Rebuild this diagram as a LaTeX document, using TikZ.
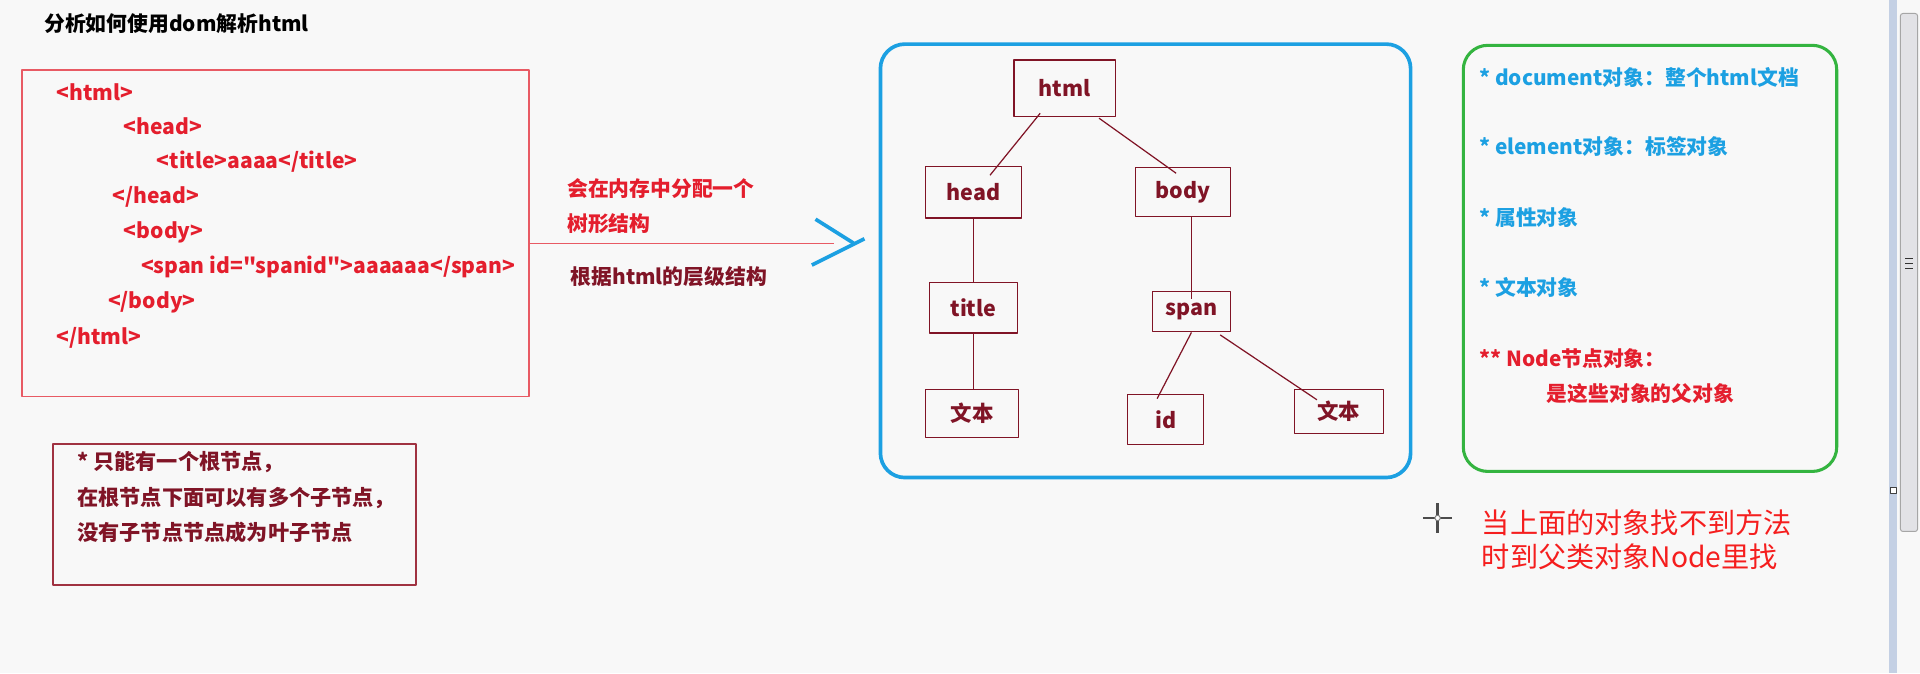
\documentclass[tikz,border=0pt]{standalone}
\usepackage{fontspec}
\setmainfont{Noto Sans CJK SC}
\newfontfamily\codefont{Noto Sans CJK SC} % 源码用，不做 TeX 引号替换
\usepackage{tikz}
\usetikzlibrary{
  calc,        % 坐标计算
  positioning  % 节点相对定位
}
\definecolor{codered}{RGB}{228,30,45}
\definecolor{boxred}{RGB}{232,90,100}
\definecolor{treered}{RGB}{128,20,38}
\definecolor{noteframe}{RGB}{160,50,65}
\definecolor{treeblue}{RGB}{28,160,226}
\definecolor{notegreen}{RGB}{52,180,64}
\definecolor{tipred}{RGB}{245,30,30}
\definecolor{bggray}{RGB}{248,248,248}
\definecolor{barblue}{RGB}{196,208,228}
\definecolor{bargray}{RGB}{226,226,230}

\tikzset{
  code/.style={anchor=west, inner sep=0pt, text=codered, font=\codefont\bfseries\fontsize{17.2}{17.2}\selectfont}, % 左侧 html 源码行
  treebox/.style={draw=treered, line width=1pt, text=treered, inner sep=0pt, font=\bfseries\fontsize{17.5}{17.5}\selectfont}, % 树形结构中的方框
  treeline/.style={draw=treered, line width=1pt}, % 树的连线
  note/.style={anchor=west, inner sep=0pt, font=\bfseries\fontsize{17}{17}\selectfont} % 说明文字
}

\begin{document}
\begin{tikzpicture}[x=1pt, y=-1pt, line join=round] % 以像素为单位，y 轴向下，方便按截图量坐标
  \useasboundingbox (0,0) rectangle (1568,550); % 固定画布大小
  \fill[bggray] (0,0) rectangle (1568,550); % 浅灰背景

  % 标题
  \node[anchor=west, inner sep=0pt, font=\bfseries\fontsize{17}{17}\selectfont] (heading) at (36,19) {分析如何使用dom解析html};

  % 左侧源码框
  \node[draw=boxred, line width=1.2pt, minimum width=414, minimum height=267, inner sep=0pt] (codebox) at (225,190.5) {};
  \node[code] (line1) at (46,75) {<html>};
  \node[code] (line2) at (101,103) {<head>};
  \node[code] (line3) at (128,132) {<title>aaaa</title>};
  \node[code] (line4) at (92,161) {</head>};
  \node[code] (line5) at (101,190) {<body>};
  \node[code] (line6) at (115,218) {<span id="spanid">aaaaaa</span>};
  \node[code] (line7) at (88,247) {</body>};
  \node[code] (line8) at (46,276) {</html>};

  % 中间的箭头与说明
  \coordinate (tip) at (681,199); % 红线的终点
  \draw[boxred, line width=1.2pt] (codebox.east |- tip) -- (tip); % 从源码框引出的横线
  \draw[treeblue, line width=3pt] (666,179) -- (697,198.5); % 蓝色箭头上半笔
  \draw[treeblue, line width=3pt] (706,195) -- (663,216.5); % 蓝色箭头下半笔
  \node[note, text=codered] (memo1) at (463,154) {会在内存中分配一个};
  \node[note, text=codered] (memo2) at (463,183) {树形结构};
  \node[note, text=treered] (memo3) at (466,226) {根据html的层级结构};

  % 树形结构
  \node[draw=treeblue, line width=3pt, rounded corners=20pt, minimum width=433, minimum height=354] (treepanel) at (935.5,213) {};
  \node[treebox, minimum width=83, minimum height=46] (html) at (869.5,72) {html};
  \node[treebox, minimum width=78, minimum height=42] (head) at (795,157) {head};
  \node[treebox, minimum width=78, minimum height=40] (body) at (966,157) {body};
  \node[treebox, minimum width=72, minimum height=41] (title) at (795,251.5) {title};
  \node[treebox, minimum width=64, minimum height=33] (span) at (973,254.5) {span};
  \node[treebox, minimum width=76, minimum height=39] (textl) at (794,337.5) {文本};
  \node[treebox, minimum width=62, minimum height=41] (id) at (952,342.5) {id};
  \node[treebox, minimum width=73, minimum height=36] (textr) at (1093.5,336) {文本};

  \draw[treeline] ($(html.south west)+(22,-3)$) -- ($(head.north west)+(53,7.6)$); % html -> head
  \draw[treeline] ($(html.south east)+(-14,1)$) -- ($(body.north west)+(34,5)$); % html -> body
  \draw[treeline] (head.south) -- (head.south |- title.north); % head -> title
  \draw[treeline] (span.north |- body.south) -- ($(span.north)+(0,7)$); % body -> span
  \draw[treeline] (title.south) -- (title.south |- textl.north); % title -> 文本
  \draw[treeline] (span.south) -- ($(id.north)+(-7,4)$); % span -> id
  \draw[treeline] ($(span.south east)+(-9,2)$) -- ($(textr.north west)+(19,9)$); % span -> 文本

  % 右侧对象说明
  \node[draw=notegreen, line width=2.5pt, rounded corners=20pt, minimum width=305, minimum height=348] (objpanel) at (1347.5,211) {};
  \node[note, text=treeblue] (obj1) at (1208,63) {* document对象：整个html文档};
  \node[note, text=treeblue] (obj2) at (1208,120) {* element对象：标签对象};
  \node[note, text=treeblue] (obj3) at (1208,178) {* 属性对象};
  \node[note, text=treeblue] (obj4) at (1208,235) {* 文本对象};
  \node[note, text=codered] (obj5) at (1208,293) {** Node节点对象：};
  \node[note, text=codered] (obj6) at (1263,321) {是这些对象的父对象};

  % 左下角的根节点说明
  \node[draw=noteframe, line width=1.8pt, minimum width=296, minimum height=115, inner sep=0pt] (rootbox) at (191.5,420) {};
  \node[note, text=treered, font=\bfseries\fontsize{17.3}{17.3}\selectfont] (root1) at (63,377.5) {* 只能有一个根节点，};
  \node[note, text=treered, font=\bfseries\fontsize{17.3}{17.3}\selectfont] (root2) at (63,407) {在根节点下面可以有多个子节点，};
  \node[note, text=treered, font=\bfseries\fontsize{17.3}{17.3}\selectfont] (root3) at (63,434.5) {没有子节点节点成为叶子节点};

  % 右下角的红字
  \node[anchor=west, inner sep=0pt, text=tipred, font=\fontsize{23}{23}\selectfont] (hint1) at (1210,427) {当上面的对象找不到方法};
  \node[anchor=west, inner sep=0pt, text=tipred, font=\fontsize{23}{23}\selectfont] (hint2) at (1210,455) {时到父类对象Node里找};

  % 鼠标十字光标
  \draw[gray!60!black, line width=1.8pt] (1162,423) -- (1186,423) (1174,411) -- (1174,435);
  \filldraw[fill=white, draw=gray, line width=0.8pt] (1174,423) circle (2.2);

  % 右侧滚动条
  \fill[barblue] (1543,0) rectangle (1549,550);
  \filldraw[fill=bargray, draw=gray!70, line width=0.8pt, rounded corners=2pt] (1552,11) rectangle (1566,434);
  \draw[gray!40!black, line width=0.8pt] (1556,211) -- (1562,211) (1556,215) -- (1562,215) (1556,219) -- (1562,219);
  \filldraw[fill=white, draw=gray!50!black, line width=0.8pt] (1543.5,398) rectangle (1548.5,403);
\end{tikzpicture}
\end{document}
